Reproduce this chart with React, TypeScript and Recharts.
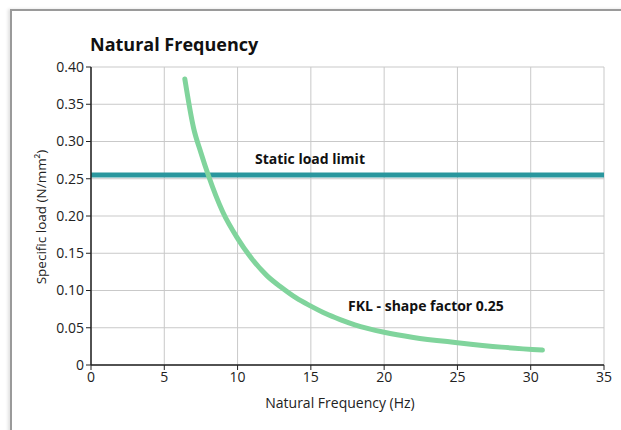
import React from "react";
import {
  LineChart,
  Line,
  XAxis,
  YAxis,
  CartesianGrid,
  ReferenceLine,
} from "recharts";

// Curve (Hz vs N/mm²)
const freq = [6.4, 7.0, 7.5, 8.0, 9.0, 10, 11, 12, 13, 14, 15, 16, 17, 18, 20, 22, 25, 28, 30.8];
const load = [
  0.384, 0.318, 0.285, 0.255, 0.205, 0.17, 0.142, 0.12, 0.104, 0.09, 0.079, 0.069, 0.061, 0.054,
  0.044, 0.037, 0.03, 0.024, 0.02,
];
const staticLimit = 0.255;
const xTicks = [0, 5, 10, 15, 20, 25, 30, 35];
const yTicks = [0, 0.05, 0.1, 0.15, 0.2, 0.25, 0.3, 0.35, 0.4];

const data = freq.map((f, i) => ({ f, load: load[i] }));

const FONT = "'Open Sans', 'Noto Sans', sans-serif";

export default function App() {
  return (
    <div
      style={{
        position: "absolute",
        left: 0,
        top: 0,
        width: 621,
        height: 430,
        background: "#fff",
        fontFamily: FONT,
        overflow: "hidden",
      }}
    >
      {/* frame edge */}
      <div
        style={{
          position: "absolute",
          left: 10,
          top: 9,
          width: 640,
          height: 460,
          borderTop: "2px solid #9a9a9a",
          borderLeft: "2px solid #9a9a9a",
          boxShadow: "-2px 0 3px rgba(0,0,0,0.12)",
        }}
      />
      <LineChart
        width={621}
        height={430}
        data={data}
        margin={{ top: 67, right: 17, bottom: 35, left: 31 }}
        style={{ position: "absolute", left: 0, top: 0 }}
      >
        <CartesianGrid stroke="#c9c9c9" strokeWidth={1} />
        <XAxis
          dataKey="f"
          type="number"
          domain={[0, 35]}
          ticks={xTicks}
          height={30}
          tickSize={5}
          tick={{ fontSize: 14, fill: "#222", fontFamily: FONT }}
          stroke="#222"
          axisLine={{ strokeWidth: 1.5 }}
        />
        <YAxis
          type="number"
          domain={[0, 0.4]}
          ticks={yTicks}
          width={60}
          tickSize={5}
          tickFormatter={(v: number) => (v === 0 ? "0" : v.toFixed(2))}
          tick={{ fontSize: 14, fill: "#222", fontFamily: FONT }}
          stroke="#222"
          axisLine={{ strokeWidth: 1.5 }}
        />
        <ReferenceLine y={staticLimit} stroke="#2a979e" strokeWidth={5} />
        <Line
          type="monotone"
          dataKey="load"
          stroke="#80d49c"
          strokeWidth={5}
          strokeLinecap="round"
          dot={false}
          isAnimationActive={false}
        />
      </LineChart>

      <div style={{ position: "absolute", left: 90, top: 32, fontSize: 18, fontWeight: 700, color: "#111" }}>
        Natural Frequency
      </div>
      <div style={{ position: "absolute", left: 255, top: 149, fontSize: 14, fontWeight: 700, color: "#111" }}>
        Static load limit
      </div>
      <div style={{ position: "absolute", left: 348, top: 296, fontSize: 14, fontWeight: 700, color: "#111" }}>
        FKL - shape factor 0.25
      </div>
      <div
        style={{
          position: "absolute",
          left: 240,
          top: 393,
          width: 200,
          textAlign: "center",
          fontSize: 14,
          color: "#222",
          whiteSpace: "nowrap",
        }}
      >
        Natural Frequency (Hz)
      </div>
      <div
        style={{
          position: "absolute",
          left: 41,
          top: 208,
          fontSize: 13.5,
          color: "#222",
          whiteSpace: "nowrap",
          transform: "translate(-50%, 0) rotate(-90deg)",
          transformOrigin: "50% 50%",
        }}
      >
        Specific load (N/mm²)
      </div>
    </div>
  );
}
